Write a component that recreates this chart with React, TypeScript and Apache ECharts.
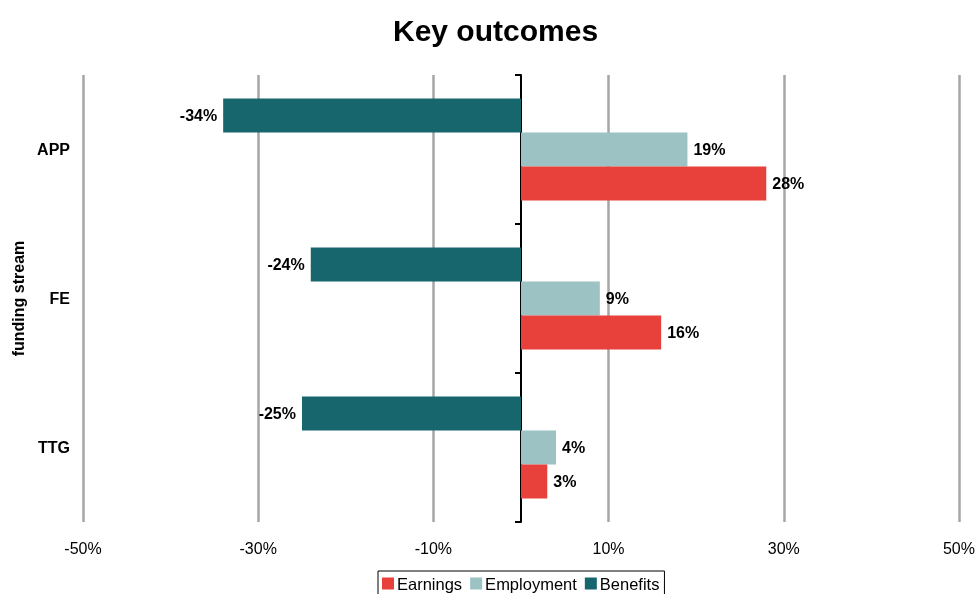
import React, { useEffect, useRef } from "react";
import * as echarts from "echarts";

const categories = ["APP", "FE", "TTG"];
const earnings = [28, 16, 3];
const employment = [19, 9, 4];
const benefits = [-34, -24, -25];
const legendOrder = ["Earnings", "Employment", "Benefits"];
const xTicks = { min: -50, max: 50, interval: 20 };

const FONT = "Liberation Sans, Arial, sans-serif";

export default function App() {
  const ref = useRef<HTMLDivElement>(null);
  useEffect(() => {
    if (!ref.current) return;
    const chart = echarts.init(ref.current, null, { renderer: "svg" });
    const labelStyle = {
      show: true,
      fontFamily: FONT,
      fontWeight: "bold" as const,
      fontSize: 16,
      color: "#000",
      formatter: (p: any) => `${p.value}%`,
      distance: 6,
    };
    chart.setOption({
      animation: false,
      textStyle: { fontFamily: FONT },
      title: {
        text: "Key outcomes",
        left: 388,
        top: 10,
        textStyle: { fontFamily: FONT, fontWeight: "bold", fontSize: 30, color: "#000" },
      },
      legend: {
        top: 571,
        left: 378,
        data: legendOrder,
        icon: "rect",
        itemWidth: 12,
        itemHeight: 12,
        itemGap: 8,
        borderColor: "#000",
        borderWidth: 1,
        borderRadius: 0,
        padding: [4, 5, 12, 4],
        textStyle: { fontFamily: FONT, fontSize: 16.5, color: "#000", padding: [0, 0, 0, -2] },
      },
      grid: { left: 83, right: 14, top: 75, bottom: 72, containLabel: false },
      xAxis: {
        type: "value",
        min: xTicks.min,
        max: xTicks.max,
        interval: xTicks.interval,
        axisLine: { show: false },
        axisTick: { show: false },
        axisLabel: {
          formatter: "{value}%",
          fontFamily: FONT,
          fontSize: 16,
          color: "#000",
          margin: 18,
        },
        splitLine: { show: true, lineStyle: { color: "#a6a6a6", width: 2.5 } },
      },
      yAxis: [
        {
          type: "category",
          data: categories,
          inverse: true,
          name: "funding stream",
          nameLocation: "middle",
          nameGap: 54,
          nameTextStyle: { fontFamily: FONT, fontWeight: "bold", fontSize: 16, color: "#000" },
          axisLine: { show: false, onZero: false },
          axisTick: { show: false },
          axisLabel: {
            fontFamily: FONT,
            fontWeight: "bold",
            fontSize: 16,
            color: "#000",
            margin: 13,
          },
        },
        {
          type: "category",
          data: categories,
          inverse: true,
          position: "left",
          axisLine: { show: true, onZero: true, lineStyle: { color: "#000", width: 2 } },
          axisTick: { show: true, length: 6, lineStyle: { color: "#000", width: 2 } },
          axisLabel: { show: false },
        },
      ],
      series: [
        {
          name: "Benefits",
          type: "bar",
          data: benefits,
          barWidth: 34,
          barGap: "0%",
          itemStyle: { color: "#17666e" },
          label: { ...labelStyle, position: "left" },
        },
        {
          name: "Employment",
          type: "bar",
          data: employment,
          barWidth: 34,
          barGap: "0%",
          itemStyle: { color: "#9cc2c4" },
          label: { ...labelStyle, position: "right" },
        },
        {
          name: "Earnings",
          type: "bar",
          data: earnings,
          barWidth: 34,
          barGap: "0%",
          itemStyle: { color: "#e8403a" },
          label: { ...labelStyle, position: "right" },
        },
      ],
    });
    return () => chart.dispose();
  }, []);
  return <div ref={ref} style={{ width: 978, height: 594, position: "fixed", left: 0, top: 0 }} />;
}
